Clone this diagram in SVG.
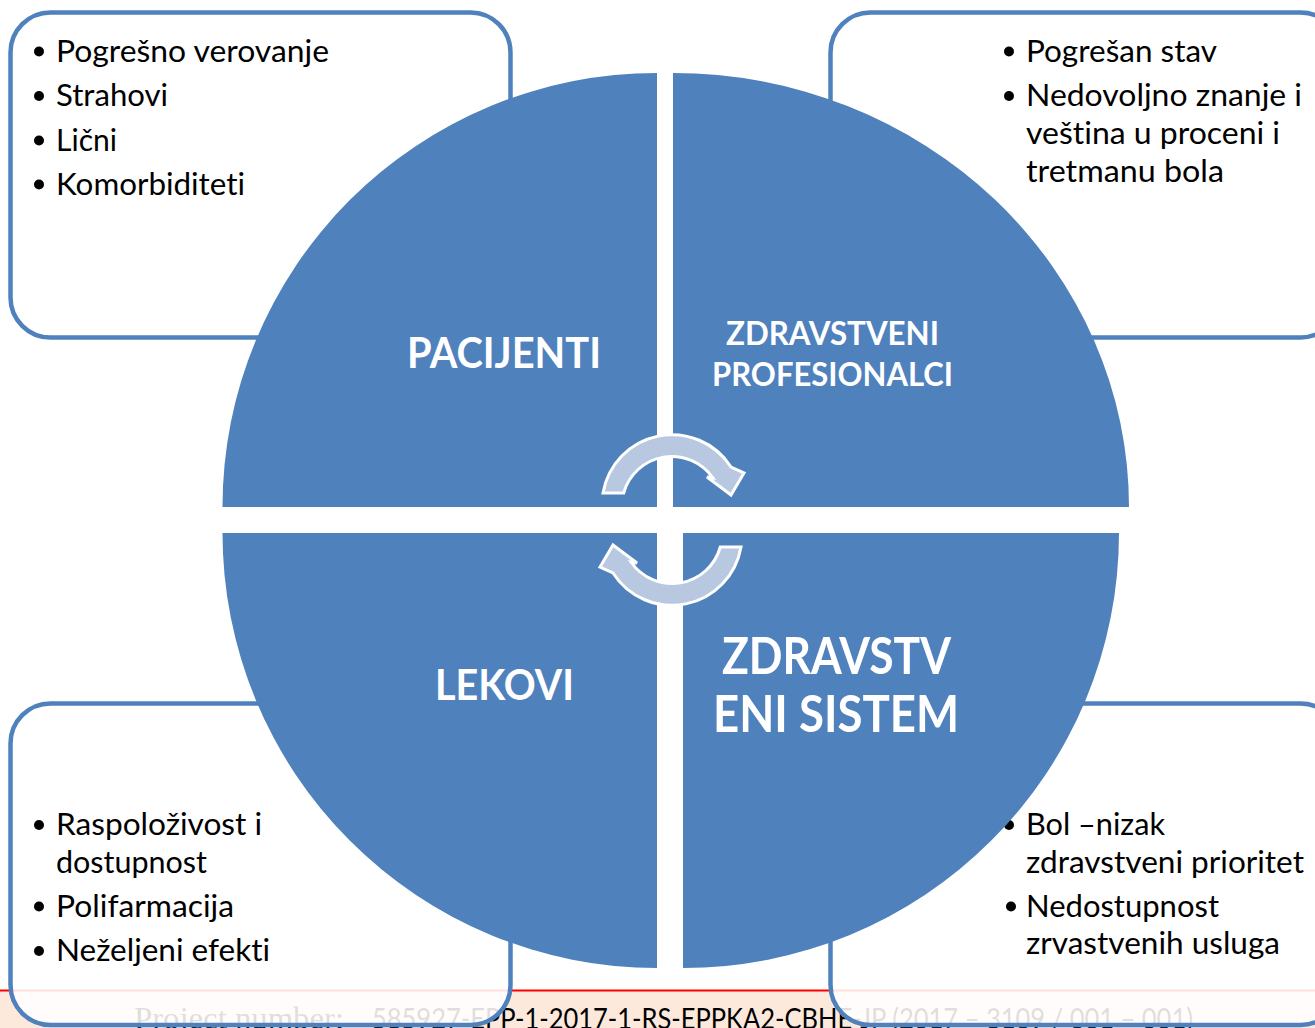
<svg xmlns="http://www.w3.org/2000/svg" width="1315" height="1028" viewBox="0 0 1315 1028">
<style>
text{font-variant-ligatures:none;font-feature-settings:"liga" 0,"clig" 0}
.box{fill:#fff;fill-opacity:0.87;stroke:#4F81BD;stroke-width:4.5}
.quad{fill:#4F81BD}
.body{font-family:Lato,"Open Sans","Liberation Sans",sans-serif;font-size:30px;fill:#000}
.lbl{font-family:Lato,"Open Sans","Liberation Sans",sans-serif;font-weight:700;fill:#fff}
.cyc{fill:#B9C8E1;stroke:#fff;stroke-width:3;stroke-linejoin:miter}
</style>
<rect width="1315" height="1028" fill="#fff"/>
<g id="footer">
<rect x="0" y="991" width="1315" height="37" fill="#FCE9DB"/>
<rect x="0" y="989.5" width="1315" height="2" fill="#FF0000"/>
<text x="134" y="1029" font-family="'Liberation Serif',serif" font-size="31" fill="#000" textLength="210" lengthAdjust="spacingAndGlyphs">Project number:</text>
<text x="372" y="1029" font-family="Lato,'Open Sans',sans-serif" font-size="28" fill="#000" textLength="821" lengthAdjust="spacingAndGlyphs">585927-EPP-1-2017-1-RS-EPPKA2-CBHE-JP (2017 – 3109 / 001 – 001)</text>
</g>
<g id="box-tl">
<rect class="box" x="10.5" y="12.5" width="500" height="325" rx="40"/>
<circle cx="39" cy="51.5" r="5"/><circle cx="39" cy="96" r="5"/><circle cx="39" cy="140.5" r="5"/><circle cx="39" cy="184.5" r="5"/>
<text class="body" x="56" y="62" textLength="273" lengthAdjust="spacingAndGlyphs">Pogrešno verovanje</text>
<text class="body" x="56" y="106" textLength="112" lengthAdjust="spacingAndGlyphs">Strahovi</text>
<text class="body" x="56" y="150.5" textLength="61" lengthAdjust="spacingAndGlyphs">Lični</text>
<text class="body" x="56" y="194.5" textLength="189" lengthAdjust="spacingAndGlyphs">Komorbiditeti</text>
</g>
<g id="box-tr">
<rect class="box" x="830.5" y="12.5" width="510" height="325" rx="40"/>
<circle cx="1009" cy="51.5" r="5"/><circle cx="1009" cy="96" r="5"/>
<text class="body" x="1026" y="62" textLength="191" lengthAdjust="spacingAndGlyphs">Pogrešan stav</text>
<text class="body" x="1026" y="106" textLength="276" lengthAdjust="spacingAndGlyphs">Nedovoljno znanje i</text>
<text class="body" x="1026" y="144" textLength="254" lengthAdjust="spacingAndGlyphs">veština u proceni i</text>
<text class="body" x="1026" y="182" textLength="198" lengthAdjust="spacingAndGlyphs">tretmanu bola</text>
</g>
<g id="box-bl">
<rect class="box" x="10.5" y="703.5" width="500" height="321.5" rx="40"/>
<circle cx="39" cy="825" r="5"/><circle cx="39" cy="906.5" r="5"/><circle cx="39" cy="951" r="5"/>
<text class="body" x="56" y="835" textLength="206" lengthAdjust="spacingAndGlyphs">Raspoloživost i</text>
<text class="body" x="56" y="873" textLength="151" lengthAdjust="spacingAndGlyphs">dostupnost</text>
<text class="body" x="56" y="917" textLength="178" lengthAdjust="spacingAndGlyphs">Polifarmacija</text>
<text class="body" x="56" y="961" textLength="214" lengthAdjust="spacingAndGlyphs">Neželjeni efekti</text>
</g>
<g id="box-br">
<rect class="box" x="830.5" y="703.5" width="510" height="321.5" rx="40"/>
<circle cx="1009" cy="825" r="5"/><circle cx="1011" cy="906.5" r="5"/>
<text class="body" x="1026" y="835" textLength="139" lengthAdjust="spacingAndGlyphs">Bol –nizak</text>
<text class="body" x="1026" y="873" textLength="278" lengthAdjust="spacingAndGlyphs">zdravstveni prioritet</text>
<text class="body" x="1026" y="917" textLength="193" lengthAdjust="spacingAndGlyphs">Nedostupnost</text>
<text class="body" x="1026" y="954" textLength="254" lengthAdjust="spacingAndGlyphs">zrvastvenih usluga</text>
</g>
<g id="q-pacijenti">
<path class="quad" d="M657,507 L222.5,507 A434.5 434 0 0 1 657,73 Z"/>
<text class="lbl" x="407" y="368" font-size="42" textLength="194" lengthAdjust="spacingAndGlyphs">PACIJENTI</text>
</g>
<g id="q-profesionalci">
<path class="quad" d="M673,507 L673,73 A456 434 0 0 1 1129,507 Z"/>
<text class="lbl" x="726" y="345" font-size="32" textLength="213" lengthAdjust="spacingAndGlyphs">ZDRAVSTVENI</text>
<text class="lbl" x="712" y="386" font-size="32" textLength="241" lengthAdjust="spacingAndGlyphs">PROFESIONALCI</text>
</g>
<g id="q-lekovi">
<path class="quad" d="M657,533 L657,968 A434.5 435 0 0 1 222.5,533 Z"/>
<text class="lbl" x="435" y="700" font-size="42" textLength="139" lengthAdjust="spacingAndGlyphs">LEKOVI</text>
</g>
<g id="q-sistem">
<path class="quad" d="M683,533 L1119,533 A436 435 0 0 1 683,968 Z"/>
<text class="lbl" x="722" y="674" font-size="52" textLength="229" lengthAdjust="spacingAndGlyphs">ZDRAVSTV</text>
<text class="lbl" x="713" y="732" font-size="52" textLength="246" lengthAdjust="spacingAndGlyphs">ENI SISTEM</text>
</g>
<g id="connectors">
<path class="cyc" d="M603,493 A70 70 0 0 1 731,467 L744,473 L731,495 L707,477 L713,478 A50 50 0 0 0 623.7,493 Z"/>
<path class="cyc" transform="rotate(180 672 520)" d="M603,493 A70 70 0 0 1 731,467 L744,473 L731,495 L707,477 L713,478 A50 50 0 0 0 623.7,493 Z"/>
</g>
</svg>
